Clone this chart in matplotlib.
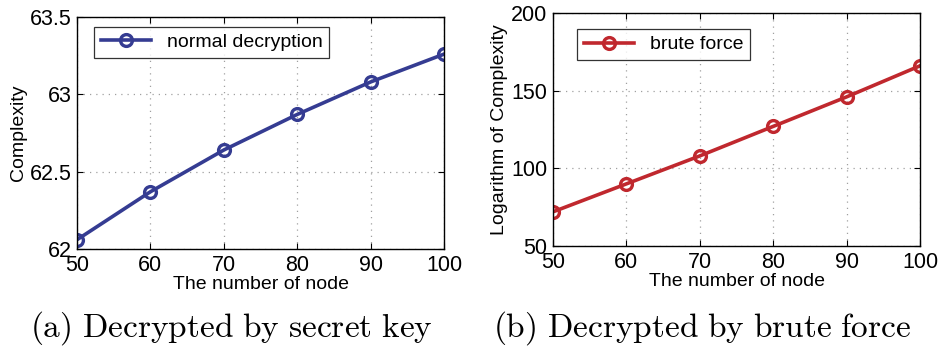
import numpy as np
from matplotlib import pyplot as plt

nodes = [50, 60, 70, 80, 90, 100]
normal_dec = [62.06, 62.37, 62.64, 62.87, 63.08, 63.26]
brute_force = [72, 90, 108, 127, 146, 166]

plt.rcParams["font.family"] = ["Liberation Sans", "DejaVu Sans"]
plt.rcParams["mathtext.fontset"] = "cm"

fig = plt.figure(figsize=(9.38, 3.53), dpi=100)
W, H = 938.0, 353.0

ax1 = fig.add_axes([77 / W, 1 - 249 / H, 367 / W, 232 / H])
ax2 = fig.add_axes([553 / W, 1 - 246 / H, 367 / W, 233 / H])


def style(ax):
    ax.grid(True, linestyle=(0, (1, 4)), color="#a0a0a0", linewidth=0.9)
    ax.tick_params(direction="in", labelsize=15.5, length=4, pad=4,
                   top=True, right=True)
    for s in ax.spines.values():
        s.set_linewidth(1.0)
    ax.set_xlabel("The number of node", fontsize=14, labelpad=0)


ax1.plot(nodes, normal_dec, color="#353c92", linewidth=2.6, marker="o",
         markersize=8.5, markerfacecolor="none", markeredgewidth=2.4,
         label="normal decryption")
ax1.set_xlim(50, 100)
ax1.set_ylim(62, 63.5)
ax1.set_yticks([62, 62.5, 63, 63.5])
ax1.set_yticklabels(["62", "62.5", "63", "63.5"])
ax1.set_xticks(nodes)
ax1.set_ylabel("Complexity", fontsize=14, labelpad=2)
style(ax1)
ax1.legend(loc="upper left", fontsize=14, frameon=True, fancybox=False,
           edgecolor="black", borderpad=0.35, handlelength=2.6,
           bbox_to_anchor=(0.019, 1.0)).get_frame().set_linewidth(0.9)

ax2.plot(nodes, brute_force, color="#c0282e", linewidth=2.6, marker="o",
         markersize=8.5, markerfacecolor="none", markeredgewidth=2.4,
         label="brute force")
ax2.set_xlim(50, 100)
ax2.set_ylim(50, 200)
ax2.set_yticks([50, 100, 150, 200])
ax2.set_xticks(nodes)
ax2.set_ylabel("Logarithm of Complexity", fontsize=14, labelpad=2)
style(ax2)
ax2.legend(loc="upper left", fontsize=14, frameon=True, fancybox=False,
           edgecolor="black", borderpad=0.35, handlelength=2.6,
           bbox_to_anchor=(0.039, 0.973)).get_frame().set_linewidth(0.9)

fig.text(231 / W, 1 - 328 / H, r"$\mathrm{(a)\ Decrypted\ by\ secret\ key}$",
         fontsize=24, ha="center", va="center")
fig.text(702 / W, 1 - 328 / H, r"$\mathrm{(b)\ Decrypted\ by\ brute\ force}$",
         fontsize=24, ha="center", va="center")

fig.savefig("out.png", dpi=100)
